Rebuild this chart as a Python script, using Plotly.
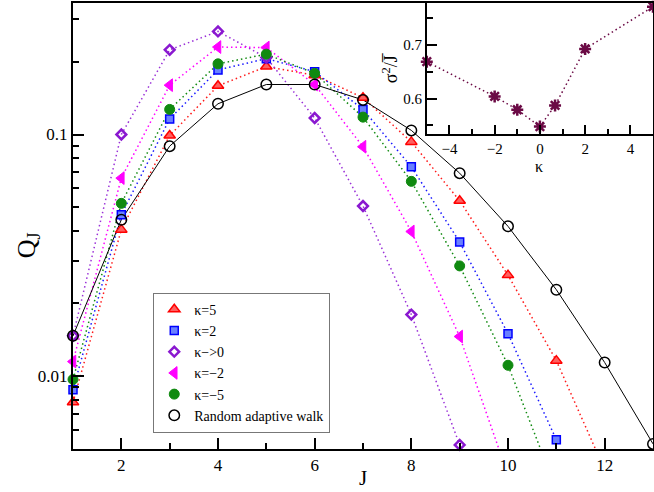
import plotly.graph_objects as go

# ---------------- data ----------------
J = [1, 2, 3, 4, 5, 6, 7, 8, 9, 10, 11, 12, 13]
q_k5 = [0.0078, 0.0404, 0.099, 0.159, 0.191, 0.176, 0.142, 0.0932, 0.0532, 0.0262, 0.0116, 0.0041, None]
q_k2 = [0.0088, 0.0466, 0.116, 0.185, 0.206, 0.182, 0.127, 0.0735, 0.0359, 0.0150, 0.00546, None, None]
q_k0 = [0.0147, 0.100, 0.224, 0.267, 0.208, 0.117, 0.0506, 0.018, 0.0052, None, None, None, None]
q_km2 = [0.0115, 0.066, 0.160, 0.230, 0.229, 0.161, 0.089, 0.0397, 0.0146, 0.0039, None, None, None]
q_km5 = [0.0097, 0.0519, 0.127, 0.196, 0.215, 0.179, 0.118, 0.064, 0.0286, 0.0111, 0.0034, None, None]
q_raw = [0.0147, 0.0444, 0.0895, 0.134, 0.161, 0.161, 0.139, 0.104, 0.0692, 0.0417, 0.0228, 0.0114, 0.00525]

kappa = [-5, -2, -1, 0, 0.67, 2, 5]
sigma2_over_J = [0.669, 0.604, 0.579, 0.5475, 0.587, 0.693, 0.772]

x_ticks = [2, 4, 6, 8, 10, 12]
y_ticks = [0.01, 0.1]
y_ticktext = ["0.01", "0.1"]
inset_x_ticks = [-4, -2, 0, 2, 4]
inset_y_ticks = [0.6, 0.7]

FONT = "Liberation Serif, Times New Roman, serif"

series = [
    ("κ=5", q_k5, "#ff1a1a", dict(symbol="triangle-up", size=10, color="#ff6060",
                                  line=dict(color="#ff0000", width=1.5))),
    ("κ=2", q_k2, "#1a1aff", dict(symbol="square", size=8, color="#6a80ff",
                                  line=dict(color="#0000ff", width=1.5))),
    ("κ\u2212>0", q_k0, "#9a30d8", dict(symbol="diamond-open", size=7.5, color="#8a18d0",
                                        line=dict(color="#8a18d0", width=2.5))),
    ("κ=\u22122", q_km2, "#ff00ff", dict(symbol="triangle-left", size=11, color="#ff00ff",
                                         line=dict(color="#ff00ff", width=1))),
    ("κ=\u22125", q_km5, "#108a10", dict(symbol="circle", size=10, color="#108a10",
                                         line=dict(color="#108a10", width=1))),
]

fig = go.Figure()

# lines
for name, ys, col, mk in series:
    fig.add_trace(go.Scatter(x=J, y=ys, mode="lines", showlegend=False, connectgaps=False,
                             line=dict(color=col, width=1.5, dash="1.5px,3px"),
                             hoverinfo="skip"))
fig.add_trace(go.Scatter(x=J, y=q_raw, mode="lines", showlegend=False,
                         line=dict(color="black", width=1), hoverinfo="skip"))

# markers (legend)
for name, ys, col, mk in series:
    fig.add_trace(go.Scatter(x=J, y=ys, mode="markers", name=name, marker=mk,
                             cliponaxis=False))
fig.add_trace(go.Scatter(x=J, y=q_raw, mode="markers", name="Random adaptive walk",
                         marker=dict(symbol="circle-open", size=10.5, color="black",
                                     line=dict(color="black", width=1.5)),
                         cliponaxis=False))

# inset
fig.add_trace(go.Scatter(x=kappa, y=sigma2_over_J, mode="lines+markers", showlegend=False,
                         xaxis="x2", yaxis="y2", cliponaxis=False,
                         line=dict(color="#6b0a45", width=1.5, dash="1.5px,3px"),
                         marker=dict(symbol="asterisk-open", size=10, color="#6b0a45",
                                     line=dict(color="#6b0a45", width=2.5))))

common = dict(showgrid=False, zeroline=False, automargin=False, tickcolor="black",
              ticks="inside", tickwidth=1.5, showline=True, linecolor="black", mirror=True)

fig.update_layout(
    width=654, height=492,
    margin=dict(l=73, r=1, t=3, b=43, autoexpand=False),
    plot_bgcolor="white", paper_bgcolor="white",
    font=dict(family=FONT, size=17, color="black"),
    xaxis=dict(domain=[0, 1], range=[1, 13], tickvals=x_ticks, ticklen=11, linewidth=2,
               minor=dict(tickvals=[3, 5, 7, 9, 11], ticks="inside", ticklen=6,
                          tickwidth=1.5, tickcolor="black"),
               tickfont=dict(family=FONT, size=17), **common),
    yaxis=dict(domain=[0, 1], type="log", range=[-2.301, -0.456],
               tickvals=y_ticks, ticktext=y_ticktext, ticklen=11, linewidth=2,
               minor=dict(tickvals=[0.006, 0.007, 0.008, 0.009, 0.02, 0.03, 0.04, 0.05,
                                    0.06, 0.07, 0.08, 0.09, 0.2, 0.3],
                          ticks="inside", ticklen=6, tickwidth=1.5, tickcolor="black"),
               tickfont=dict(family=FONT, size=17), **common),
    xaxis2=dict(domain=[0.61, 1.0], anchor="y2", range=[-5, 5], tickvals=inset_x_ticks,
                ticklen=10, linewidth=1.5,
                minor=dict(tickvals=[-3, -1, 1, 3], ticks="inside", ticklen=6,
                           tickwidth=1.5, tickcolor="black"),
                tickfont=dict(family=FONT, size=15), **common),
    yaxis2=dict(domain=[0.7056, 1.0], anchor="x2", range=[0.533, 0.779],
                tickvals=inset_y_ticks, tickformat=".1f", ticklen=10, linewidth=1.5,
                minor=dict(tickvals=[0.55, 0.65, 0.75], ticks="inside", ticklen=6,
                           tickwidth=1.5, tickcolor="black"),
                tickfont=dict(family=FONT, size=15), **common),
    legend=dict(x=0.1384, y=0.3504, xanchor="left", yanchor="top",
                bgcolor="white", bordercolor="#777777", borderwidth=1,
                font=dict(family=FONT, size=14), itemwidth=30,
                tracegroupgap=0),
    annotations=[
        dict(text="Q<sub>J</sub>", xref="paper", yref="paper", x=-0.0776, y=0.457,
             showarrow=False, textangle=-90, font=dict(family=FONT, size=26),
             xanchor="center", yanchor="middle"),
        dict(text="J", xref="paper", yref="paper", x=0.5, y=-0.066,
             showarrow=False, font=dict(family=FONT, size=21), xanchor="center",
             yanchor="middle"),
        dict(text="σ<sup>2</sup>/J\u0305", xref="paper", yref="paper", x=0.5466, y=0.854,
             showarrow=False, textangle=-90, font=dict(family=FONT, size=18),
             xanchor="center", yanchor="middle"),
        dict(text="κ", xref="paper", yref="paper", x=0.8034, y=0.6323,
             showarrow=False, font=dict(family=FONT, size=16), xanchor="center",
             yanchor="middle"),
    ],
)

fig.write_html("out.html", config={"displayModeBar": False},
               post_script="document.body.style.margin='0px';"
                           "document.body.style.overflow='hidden';")
